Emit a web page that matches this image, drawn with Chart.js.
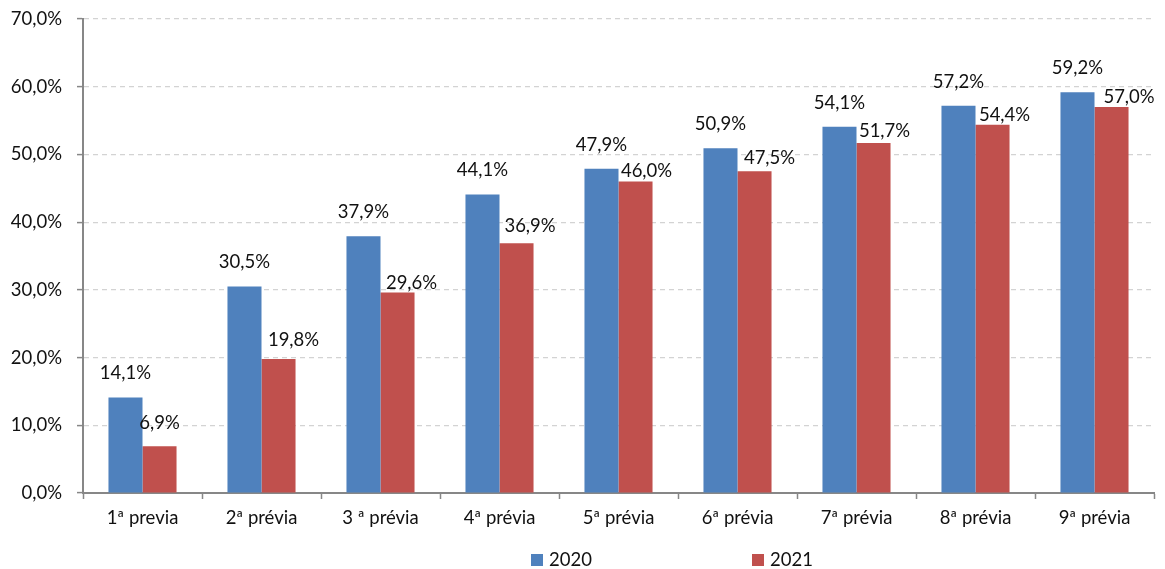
<!DOCTYPE html>
<html>
<head>
<meta charset="utf-8">
<script src="https://cdn.jsdelivr.net/npm/chart.js@4.4.1/dist/chart.umd.min.js"></script>
<style>
  html, body { margin: 0; padding: 0; background: #ffffff; }
  #wrap { width: 1165px; height: 569px; }
</style>
</head>
<body>
<div id="wrap"><canvas id="chart" width="1165" height="569"></canvas></div>
<script>
// Categories and values (% of total)
const categories = ['1ª previa', '2ª prévia', '3 ª prévia', '4ª prévia', '5ª prévia', '6ª prévia', '7ª prévia', '8ª prévia', '9ª prévia'];
const values2020 = [14.1, 30.5, 37.9, 44.1, 47.9, 50.9, 54.1, 57.2, 59.2];
const values2021 = [6.9, 19.8, 29.6, 36.9, 46.0, 47.5, 51.7, 54.4, 57.0];
const seriesNames = ['2020', '2021'];
const yTickValues = [0, 10, 20, 30, 40, 50, 60, 70];

const FONT = 'Lato, "Open Sans", "Liberation Sans", sans-serif';
const FONT_SIZE = 18.5;
const TEXT = '#111111';
const AXIS = '#878787';

const pct = v => v.toFixed(1).replace('.', ',') + '%';

// Value labels above each bar, with small per-label nudges (pixels)
const valueLabels = {
  id: 'valueLabels',
  afterDatasetsDraw(chart, args, opts) {
    const ctx = chart.ctx;
    ctx.save();
    ctx.font = opts.size + 'px ' + FONT;
    ctx.fillStyle = TEXT;
    ctx.textAlign = 'center';
    ctx.textBaseline = 'middle';
    chart.data.datasets.forEach((ds, di) => {
      const meta = chart.getDatasetMeta(di);
      const nudge = opts.nudges[di];
      meta.data.forEach((el, i) => {
        ctx.fillText(pct(ds.data[i]), el.x + nudge.dx[i], el.y + nudge.dy[i]);
      });
    });
    ctx.restore();
  }
};

// Legend drawn below the axis: square swatch followed by the series name
const bottomLegend = {
  id: 'bottomLegend',
  afterDraw(chart, args, opts) {
    const ctx = chart.ctx;
    ctx.save();
    ctx.font = opts.size + 'px ' + FONT;
    ctx.textBaseline = 'middle';
    ctx.textAlign = 'left';
    chart.data.datasets.forEach((ds, di) => {
      const x = opts.itemX[di];
      ctx.fillStyle = ds.backgroundColor;
      ctx.fillRect(x, opts.y - opts.box / 2, opts.box, opts.box);
      ctx.fillStyle = TEXT;
      ctx.fillText(ds.label, x + opts.box + 6, opts.y);
    });
    ctx.restore();
  }
};

new Chart(document.getElementById('chart'), {
  type: 'bar',
  data: {
    labels: categories,
    datasets: [
      { label: seriesNames[0], data: values2020, backgroundColor: '#4F81BD' },
      { label: seriesNames[1], data: values2021, backgroundColor: '#C0504D' }
    ]
  },
  options: {
    responsive: false,
    devicePixelRatio: 1,
    animation: false,
    categoryPercentage: 0.572,
    barPercentage: 1.0,
    layout: { padding: { left: 0, right: 11, top: 19, bottom: 26 } },
    plugins: {
      legend: { display: false },
      tooltip: { enabled: false },
      valueLabels: {
        size: FONT_SIZE,
        nudges: [
          { dx: [0, 0, 0, 0, 0, 0, 0, 0, 0], dy: [-24, -24, -24, -24, -24, -24, -24, -24, -24] },
          { dx: [0, 15, 14, 13.5, 11, 15, 11, 12, 17.5], dy: [-23.5, -19, -10, -17, -10, -13, -12, -10, -10] }
        ]
      },
      bottomLegend: { size: FONT_SIZE, y: 560, box: 12, itemX: [531, 752] }
    },
    scales: {
      x: {
        offset: true,
        grid: {
          offset: true,
          drawOnChartArea: false,
          drawTicks: true,
          tickLength: 6,
          tickColor: AXIS,
          tickWidth: 1.5
        },
        border: { display: true, color: AXIS, width: 2 },
        ticks: { color: TEXT, font: { family: FONT, size: FONT_SIZE }, padding: 8, autoSkip: false, maxRotation: 0 },
        afterFit(scale) { scale.height = 50; }
      },
      y: {
        min: 0,
        max: 70,
        afterBuildTicks(scale) { scale.ticks = yTickValues.map(v => ({ value: v })); },
        grid: {
          color: c => (c.tick && c.tick.value === 0) ? 'rgba(0,0,0,0)' : '#d3d3d3',
          lineWidth: 1.2,
          drawTicks: true,
          tickLength: 6,
          tickColor: AXIS,
          tickWidth: 1.5,
          tickBorderDash: []
        },
        border: { display: true, color: AXIS, width: 2, dash: [5, 4] },
        ticks: { color: TEXT, font: { family: FONT, size: FONT_SIZE }, padding: 15, callback: v => pct(v) },
        afterFit(scale) {
          scale.width = 83;
          scale.paddingTop = 0;
          scale.paddingBottom = 0;
        }
      }
    }
  },
  plugins: [valueLabels, bottomLegend]
});
</script>
</body>
</html>
